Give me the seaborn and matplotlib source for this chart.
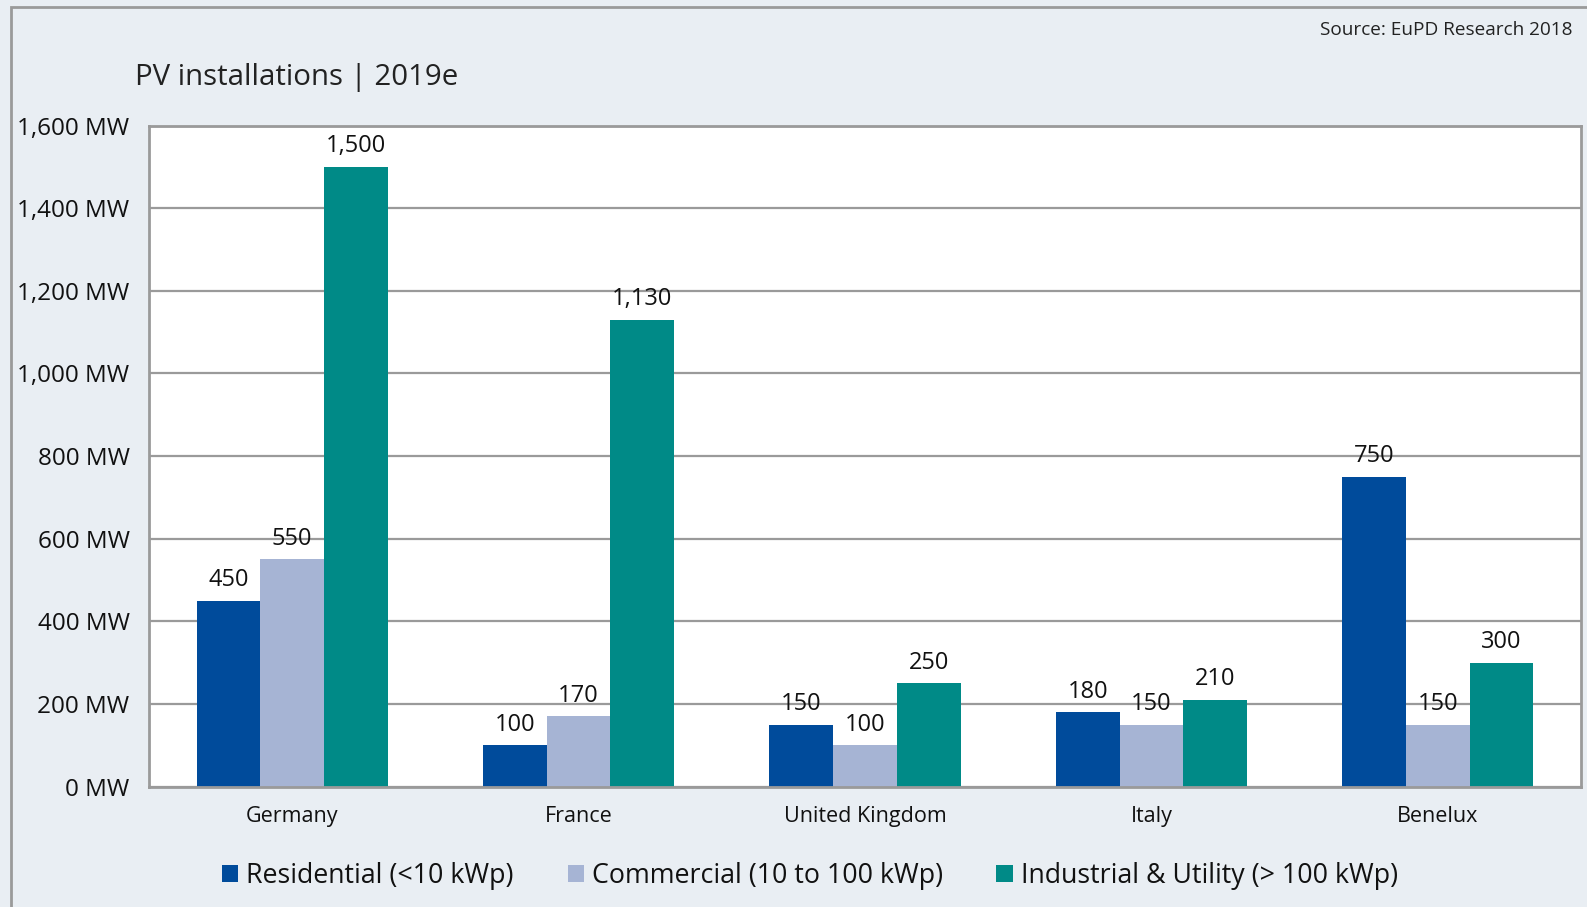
import numpy as np
import pandas as pd
import seaborn as sns
import matplotlib.pyplot as plt
from matplotlib.patches import Rectangle

countries = ['Germany', 'France', 'United Kingdom', 'Italy', 'Benelux']
segments = ['Residential (<10 kWp)', 'Commercial (10 to 100 kWp)', 'Industrial & Utility (> 100 kWp)']
residential = [450, 100, 150, 180, 750]
commercial = [550, 170, 100, 150, 150]
industrial = [1500, 1130, 250, 210, 300]
yticks = [0, 200, 400, 600, 800, 1000, 1200, 1400, 1600]

df = pd.DataFrame({
    'country': countries * 3,
    'segment': [segments[0]] * 5 + [segments[1]] * 5 + [segments[2]] * 5,
    'mw': residential + commercial + industrial,
})

sns.set_style('white')
plt.rcParams['font.family'] = ['Open Sans', 'DejaVu Sans']
bg = '#e9eef3'
grey = '#9a9a9a'
ink = '#111111'
colors = ['#004b9b', '#a6b4d4', '#008a87']

fig = plt.figure(figsize=(15.87, 9.07), dpi=100, facecolor=bg)
ax = fig.add_axes([149 / 1587, 1 - 786.5 / 907, (1581 - 149) / 1587, (786.5 - 125.5) / 907])
ax.set_facecolor('white')

sns.barplot(data=df, x='country', y='mw', hue='segment', palette=colors,
            saturation=1, width=0.667, linewidth=0, ax=ax, legend=True)

for c in ax.containers:
    ax.bar_label(c, labels=[f'{v:,.0f}' for v in c.datavalues], padding=6,
                 fontsize=17, color=ink)

ax.set_ylim(0, 1600)
ax.set_yticks(yticks)
ax.set_yticklabels([f'{v:,} MW' for v in yticks], fontsize=17.5, color=ink)
ax.tick_params(axis='x', labelsize=15.5, colors=ink, length=0, pad=14)
ax.tick_params(axis='y', length=0, pad=14)
ax.yaxis.grid(True, color=grey, linewidth=1.6)
ax.set_axisbelow(True)
ax.set_xlabel('')
ax.set_ylabel('')
for s in ax.spines.values():
    s.set_color(grey)
    s.set_linewidth(2)

h, l = ax.get_legend_handles_labels()
ax.get_legend().remove()
fig.legend(h, l, loc='center', bbox_to_anchor=(810 / 1587, 1 - 876 / 907), ncol=3,
           frameon=False, fontsize=19.3, handlelength=0.6, handleheight=0.6,
           handletextpad=0.3, columnspacing=2.0, labelcolor=ink)

fig.text(135 / 1587, 1 - 78 / 907, 'PV installations | 2019e', fontsize=21.2,
         color='#222222', va='center', ha='left', fontweight='medium')
fig.text(1572 / 1587, 1 - 30 / 907, 'Source: EuPD Research 2018', fontsize=13.7,
         color='#222222', va='center', ha='right')

fig.patches.append(Rectangle((11 / 1587, -0.1), 1.1, 1 - 7 / 907 + 0.1,
                             transform=fig.transFigure, fill=False,
                             edgecolor=grey, linewidth=2))

fig.savefig('out.png', dpi=100, facecolor=bg)
